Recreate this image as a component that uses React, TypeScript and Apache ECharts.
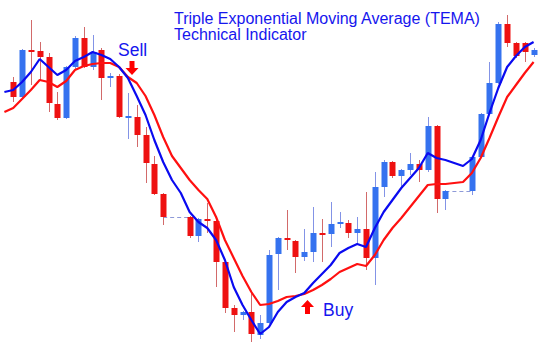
import React, { useEffect, useRef } from "react";
import * as echarts from "echarts";

// Prices in 1/10000 units (e.g. 13127 = 1.3127). Slot 0 is a lead-in slot off the left edge.
const opens: (number | null)[] = [
  null, 13127, 13112, 13159, 13158, 13152, 13105, 13091, 13142, 13171,
  13142, 13159, 13131, 13133, 13091, 13092, 13074, 13045, 13015, null,
  null, 12992, 12973, 12990, 12988, 12947, 12901, 12894, 12897, 12874,
  12886, 12955, 12971, 12968, 12952, 12957, 12976, 12975, 12985, 12986,
  12976, 12980, 12951, 13022, 13047, 13033, 13039, 13045, 13039, 13083,
  13010, null, null, 13018, 13052, 13095, 13126, 13185, 13166, 13166,
  13154,
];
const closes: (number | null)[] = [
  null, 13112, 13159, 13158, 13152, 13106, 13091, 13142, 13171, 13142,
  13157, 13131, 13133, 13092, 13093, 13074, 13046, 13015, 12992, null,
  null, 12973, 12990, 12989, 12947, 12901, 12894, 12897, 12875, 12886,
  12954, 12971, 12969, 12952, 12957, 12976, 12975, 12985, 12987, 12976,
  12980, 12951, 13022, 13047, 13033, 13039, 13045, 13039, 13083, 13010,
  13018, null, null, 13052, 13095, 13126, 13185, 13166, 13153, 13157,
  13159,
];
const lows: (number | null)[] = [
  null, 13107, 13111, 13124, 13129, 13097, 13089, 13090, 13140, 13141,
  13139, 13109, 13122, 13091, 13070, 13062, 13026, 13014, 12984, null,
  null, 12971, 12967, 12976, 12922, 12896, 12877, 12889, 12867, 12870,
  12885, 12919, 12959, 12936, 12948, 12947, 12947, 12962, 12981, 12971,
  12966, 12939, 12924, 13012, 13031, 13022, 13034, 13027, 13037, 12996,
  12999, null, null, 13014, 13051, 13094, 13125, 13162, 13151, 13147,
  13152,
];
const highs: (number | null)[] = [
  null, 13132, 13160, 13189, 13167, 13156, 13117, 13143, 13173, 13182,
  13174, 13161, 13136, 13135, 13116, 13104, 13082, 13053, 13016, null,
  null, 12993, 12991, 13006, 12989, 12948, 12904, 12898, 12916, 12894,
  12959, 12972, 12999, 12969, 12980, 13002, 12990, 13007, 12997, 12989,
  12992, 13017, 13037, 13049, 13048, 13040, 13056, 13049, 13092, 13084,
  13019, null, null, 13053, 13096, 13147, 13187, 13194, 13167, 13167,
  13161,
];
const tema: number[] = [
  13117, 13119, 13127, 13137, 13150, 13142, 13134, 13139, 13148, 13152,
  13157, 13154, 13150, 13142, 13131, 13113, 13094, 13069, 13047, 13029,
  13016, 12997, 12987, 12981, 12969, 12949, 12922, 12904, 12889, 12875,
  12882, 12897, 12907, 12912, 12916, 12926, 12935, 12944, 12956, 12961,
  12965, 12962, 12981, 12997, 13009, 13021, 13031, 13041, 13056, 13051,
  13049, 13046, 13043, 13050, 13069, 13096, 13121, 13142, 13153, 13162,
  13167,
];
const slowMA: number[] = [
  13097, 13101, 13110, 13119, 13129, 13127, 13122, 13128, 13139, 13143,
  13145, 13146, 13146, 13142, 13132, 13126, 13113, 13094, 13072, 13053,
  13041, 13029, 13019, 13010, 12992, 12969, 12951, 12933, 12917, 12904,
  12905, 12908, 12912, 12913, 12915, 12919, 12924, 12930, 12937, 12941,
  12945, 12943, 12954, 12969, 12981, 12991, 13002, 13013, 13024, 13025,
  13025, 13026, 13027, 13036, 13051, 13071, 13092, 13112, 13124, 13136,
  13147,
];
const titleLines = ["Triple Exponential Moving Average (TEMA)", "Technical Indicator"];
const sellLabel = "Sell";
const buyLabel = "Buy";

const UP_BODY = "#3572ef";
const UP_WICK = "#8393e6";
const DN_BODY = "#ee1111";
const DN_WICK = "#d26a6a";
const TEXT_BLUE = "#1616ee";
const FONT = "'Liberation Sans', Arial, sans-serif";

export default function App() {
  const ref = useRef<HTMLDivElement>(null);
  useEffect(() => {
    document.body.style.margin = "0";
    const chart = echarts.init(ref.current!, null, { renderer: "svg" });
    const categories = opens.map((_, i) => String(i));
    const candleData: number[][] = [];
    opens.forEach((o, i) => {
      if (o != null) candleData.push([i, o, closes[i] as number, lows[i] as number, highs[i] as number]);
    });
    // dashed connectors across missing sessions
    const gaps: any[] = [];
    for (let i = 1; i < opens.length; i++) {
      if (opens[i] == null && opens[i - 1] != null) {
        let j = i;
        while (j < opens.length && opens[j] == null) j++;
        if (j < opens.length) {
          gaps.push([
            { coord: [i - 1, closes[i - 1]] },
            { coord: [j, opens[j]] },
          ]);
        }
      }
    }

    chart.setOption({
      animation: false,
      backgroundColor: "#ffffff",
      grid: { left: -8.04, right: -5.4, top: 0, bottom: 0 },
      xAxis: {
        type: "category",
        data: categories,
        boundaryGap: true,
        show: false,
      },
      yAxis: { type: "value", min: 12850, max: 13209, show: false },
      series: [
        {
          type: "custom",
          z: 2,
          data: candleData,
          encode: { x: 0, y: [1, 2, 3, 4] },
          renderItem: (params: any, api: any) => {
            const idx = api.value(0);
            const o = api.value(1);
            const c = api.value(2);
            const l = api.value(3);
            const h = api.value(4);
            const po = api.coord([idx, o]);
            const pc = api.coord([idx, c]);
            const pl = api.coord([idx, l]);
            const ph = api.coord([idx, h]);
            const up = c >= o;
            const w = 6;
            const top = Math.min(po[1], pc[1]);
            const hh = Math.max(Math.abs(po[1] - pc[1]), 2);
            const x = Math.round(po[0]);
            return {
              type: "group",
              children: [
                {
                  type: "line",
                  shape: { x1: x + 0.5, y1: ph[1], x2: x + 0.5, y2: pl[1] },
                  style: { stroke: up ? UP_WICK : DN_WICK, lineWidth: 1 },
                },
                {
                  type: "rect",
                  shape: { x: x - w / 2 + 0.5, y: top, width: w, height: hh },
                  style: { fill: up ? UP_BODY : DN_BODY },
                },
              ],
            };
          },
        },
        {
          type: "line",
          z: 3,
          data: slowMA,
          symbol: "none",
          lineStyle: { color: "#ff1010", width: 2.2 },
          markLine: {
            silent: true,
            symbol: ["none", "none"],
            label: { show: false },
            lineStyle: { color: "#8e9ad8", type: [4, 3], width: 1 },
            data: gaps,
            z: 1,
          },
        },
        {
          type: "line",
          z: 4,
          data: tema,
          symbol: "none",
          lineStyle: { color: "#0a0af0", width: 2.2 },
        },
      ],
      graphic: [
        {
          type: "text",
          x: 174,
          y: 18.4,
          style: {
            text: titleLines[0],
            font: `16px ${FONT}`,
            fill: TEXT_BLUE,
            textVerticalAlign: "middle",
          },
        },
        {
          type: "text",
          x: 174,
          y: 34.9,
          style: {
            text: titleLines[1],
            font: `16px ${FONT}`,
            fill: TEXT_BLUE,
            textVerticalAlign: "middle",
          },
        },
        {
          type: "text",
          x: 118,
          y: 49.5,
          style: {
            text: sellLabel,
            font: `17.5px ${FONT}`,
            fill: TEXT_BLUE,
            textVerticalAlign: "middle",
          },
        },
        {
          type: "text",
          x: 323,
          y: 309.5,
          style: {
            text: buyLabel,
            font: `17.5px ${FONT}`,
            fill: TEXT_BLUE,
            textVerticalAlign: "middle",
          },
        },
        {
          type: "polygon",
          shape: {
            points: [
              [129.5, 61], [134.5, 61], [134.5, 68], [138.5, 68],
              [132, 75], [125.5, 68], [129.5, 68],
            ],
          },
          style: { fill: "#ff0000" },
        },
        {
          type: "polygon",
          shape: {
            points: [
              [305, 314], [310, 314], [310, 307], [314, 307],
              [307.5, 300], [301, 307], [305, 307],
            ],
          },
          style: { fill: "#ff0000" },
        },
      ],
    });
    return () => chart.dispose();
  }, []);
  return <div ref={ref} style={{ width: 538, height: 359 }} />;
}
